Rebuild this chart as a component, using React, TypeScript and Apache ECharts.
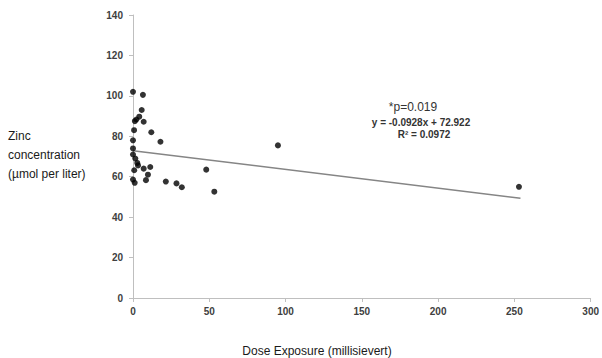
import React, { useEffect, useRef } from "react";
import * as echarts from "echarts";

const doseExposure: number[] = [0, 6.5, 5.7, 4.1, 1.2, 2.2, 7, 0.7, 12, 0, 18, 0, 0, 1.5, 2.8, 3.3, 11.3, 7, 0.8, 9.8, 0, 8.5, 1.1, 21.5, 28.5, 32, 48, 53.3, 95, 253];
const zincConcentration: number[] = [102, 100.5, 93, 89.7, 87.5, 88.3, 87.2, 83, 82, 78, 77.3, 74, 71, 69, 66.8, 65.6, 64.8, 64, 63.2, 61, 58.6, 58.3, 57, 57.6, 56.7, 54.8, 63.5, 52.6, 75.5, 55];
const trendX: number[] = [0, 254];
const trendY: number[] = [72.9, 49.3];
const annotations: string[] = ["*p=0.019", "y = -0.0928x + 72.922", "R\u00b2 = 0.0972"];
const xTitle = "Dose Exposure (millisievert)";
const yTitle = "Zinc\nconcentration\n(\u00b5mol per liter)";

export default function App() {
  const ref = useRef<HTMLDivElement>(null);
  useEffect(() => {
    if (!ref.current) return;
    const chart = echarts.init(ref.current, null, { renderer: "svg" });
    const labelStyle = { color: "#404040", fontWeight: "bold" as const, fontSize: 10, fontFamily: "Liberation Sans, Arial, sans-serif" };
    chart.setOption({
      animation: false,
      backgroundColor: "#ffffff",
      grid: { left: 133, right: 9, top: 15, bottom: 60, containLabel: false },
      xAxis: {
        type: "value",
        min: 0,
        max: 300,
        interval: 50,
        splitLine: { show: false },
        axisLine: { show: true, lineStyle: { color: "#bfbfbf", width: 1 } },
        axisTick: { show: true, length: 4, lineStyle: { color: "#bfbfbf" } },
        axisLabel: { ...labelStyle, margin: 8 },
      },
      yAxis: {
        type: "value",
        min: 0,
        max: 140,
        interval: 20,
        splitLine: { show: false },
        axisLine: { show: true, lineStyle: { color: "#bfbfbf", width: 1 } },
        axisTick: { show: true, length: 4, lineStyle: { color: "#bfbfbf" } },
        axisLabel: { ...labelStyle, margin: 10 },
      },
      series: [
        {
          type: "line",
          data: trendX.map((x, i) => [x, trendY[i]]),
          symbol: "none",
          lineStyle: { color: "#858585", width: 1.5 },
          silent: true,
          z: 1,
        },
        {
          type: "scatter",
          data: doseExposure.map((x, i) => [x, zincConcentration[i]]),
          symbol: "circle",
          symbolSize: 6,
          itemStyle: { color: "#000000" },
          z: 2,
        },
      ],
      graphic: [
        {
          type: "text",
          left: 8,
          top: 126,
          style: {
            text: yTitle,
            fill: "#1a1a1a",
            font: "12px Liberation Sans, Arial, sans-serif",
            lineHeight: 19,
          },
        },
        {
          type: "text",
          x: 317,
          y: 351,
          style: {
            text: xTitle,
            fill: "#1a1a1a",
            font: "12px Liberation Sans, Arial, sans-serif",
            align: "center",
            verticalAlign: "middle",
          },
        },
        {
          type: "text",
          x: 413,
          y: 107,
          style: {
            text: annotations[0],
            fill: "#333333",
            font: "12px Liberation Sans, Arial, sans-serif",
            align: "center",
            verticalAlign: "middle",
          },
        },
        {
          type: "text",
          x: 421,
          y: 122,
          style: {
            text: annotations[1],
            fill: "#333333",
            font: "bold 10px Liberation Sans, Arial, sans-serif",
            align: "center",
            verticalAlign: "middle",
          },
        },
        {
          type: "text",
          x: 424,
          y: 134,
          style: {
            text: annotations[2],
            fill: "#333333",
            font: "bold 10px Liberation Sans, Arial, sans-serif",
            align: "center",
            verticalAlign: "middle",
          },
        },
      ],
    });
    return () => chart.dispose();
  }, []);
  return <div ref={ref} style={{ width: 602, height: 358, position: "absolute", left: 0, top: 0 }} />;
}
